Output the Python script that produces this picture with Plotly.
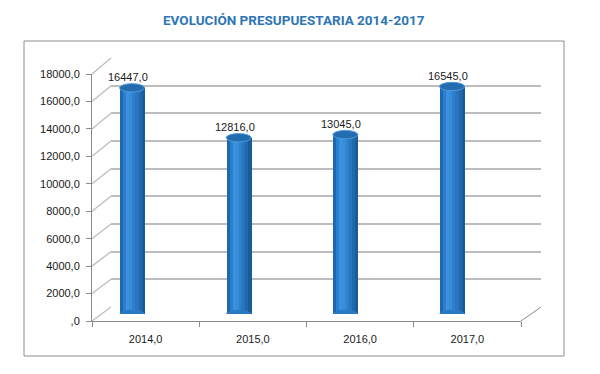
import plotly.graph_objects as go

# ---------------- data ----------------
years = ["2014,0", "2015,0", "2016,0", "2017,0"]
values = [16447, 12816, 13045, 16545]
value_labels = ["16447,0", "12816,0", "13045,0", "16545,0"]
y_ticks = [0, 2000, 4000, 6000, 8000, 10000, 12000, 14000, 16000, 18000]
y_tick_labels = [",0", "2000,0", "4000,0", "6000,0", "8000,0", "10000,0",
                 "12000,0", "14000,0", "16000,0", "18000,0"]
title_text = "EVOLUCIÓN PRESUPUESTARIA 2014-2017"

# ---------------- layout geometry (pixels) ----------------
W, H = 600, 374
YMAX = 18000
OFF = 8  # page body margin of the html page


def fx(px):
    return (px - OFF) / W


def fy(py):
    return 1 - (py - OFF) / H


# front plane (axis labels), back wall (gridlines), middle plane (bars)
FX0, FX1, FY0, FYT = 92, 521, 321, 74
BX0, BX1, BY0, BYT = 111, 541, 307, 58
MX0, MX1, MY0, MYT = 78.7, 505.3, 314, 66.5


def front_y(v):
    return FY0 - (FY0 - FYT) * v / YMAX


def back_y(v):
    return BY0 - (BY0 - BYT) * v / YMAX


FONT = "Liberation Sans, Arial, sans-serif"
GRID = "#bdbdbd"
AXIS = "#8a8a8a"

fig = go.Figure()
idx = list(range(len(years)))

# back wall subplot (x, y) - gridlines only
fig.add_trace(go.Scatter(x=[0, 1], y=[0, YMAX], mode="markers",
                         marker=dict(opacity=0), hoverinfo="skip",
                         showlegend=False, xaxis="x", yaxis="y"))
# front frame subplot (x2, y2) - axis lines & labels
fig.add_trace(go.Scatter(x=years, y=values, mode="markers",
                         marker=dict(opacity=0), hoverinfo="skip",
                         showlegend=False, xaxis="x2", yaxis="y2"))

# bars (x3, y3) - cylinder built from vertical strips
BW = 0.234
strip_colors = ["#1f68b0", "#2a7ecc", "#3a91e0", "#378cda", "#2e80cc",
                "#2775bf", "#2069ad", "#1a5c9a"]
sw = BW / len(strip_colors)
for k, c in enumerate(strip_colors):
    fig.add_trace(go.Bar(x=idx, y=values, width=sw * 1.02,
                         offset=-BW / 2 + k * sw,
                         marker=dict(color=c, line=dict(width=0)),
                         hoverinfo="skip", showlegend=False,
                         xaxis="x3", yaxis="y3"))

shapes = []
eh = 4.2 * YMAX / (MY0 - MYT)  # ellipse half-height in data units
for i, v in zip(idx, values):
    # bottom cap
    shapes.append(dict(type="circle", xref="x3", yref="y3",
                       x0=i - BW / 2, x1=i + BW / 2, y0=-eh, y1=eh,
                       fillcolor="#2a79c4", line=dict(width=0)))
    # top cap
    shapes.append(dict(type="circle", xref="x3", yref="y3",
                       x0=i - BW / 2, x1=i + BW / 2, y0=v - eh, y1=v + eh,
                       fillcolor="#246cb0", line=dict(color="#4f99dc", width=1)))

# side wall diagonals (left) at each tick and floor right edge
for v in y_ticks:
    shapes.append(dict(type="line", xref="paper", yref="paper",
                       x0=fx(FX0), y0=fy(front_y(v)), x1=fx(BX0), y1=fy(back_y(v)),
                       line=dict(color=GRID, width=1.3), layer="below"))
shapes.append(dict(type="line", xref="paper", yref="paper",
                   x0=fx(FX1), y0=fy(front_y(0)), x1=fx(BX1), y1=fy(back_y(0)),
                   line=dict(color=AXIS, width=1), layer="below"))
# outer chart border
shapes.append(dict(type="rect", xref="paper", yref="paper",
                   x0=fx(24), x1=fx(564), y0=fy(356), y1=fy(41),
                   line=dict(color="#8c8c8c", width=1), fillcolor="rgba(0,0,0,0)"))

annotations = [dict(text=title_text, xref="paper", yref="paper",
                    x=fx(294), y=fy(20), showarrow=False,
                    xanchor="center", yanchor="middle",
                    font=dict(family="Roboto, sans-serif", size=13.5,
                              color="#2e75b6", weight="bold"))]
for i, v, t in zip(idx, values, value_labels):
    annotations.append(dict(text=t, xref="x3", yref="y3", x=i, y=v,
                            xshift=-4, yshift=11, showarrow=False,
                            xanchor="center", yanchor="middle",
                            font=dict(family=FONT, size=11, color="#1a1a1a")))

fig.update_layout(
    template="none",
    width=W, height=H,
    margin=dict(l=0, r=0, t=0, b=0, pad=0, autoexpand=False),
    paper_bgcolor="white", plot_bgcolor="rgba(0,0,0,0)",
    barmode="overlay", bargap=0,
    showlegend=False,
    shapes=shapes, annotations=annotations,
    xaxis=dict(domain=[fx(BX0), fx(BX1)], range=[0, 1], anchor="y",
               visible=False, automargin=False),
    yaxis=dict(domain=[fy(BY0), fy(BYT)], range=[0, YMAX], anchor="x",
               tickvals=y_ticks, showticklabels=False, ticks="",
               showgrid=True, gridcolor=GRID, gridwidth=1.6,
               zeroline=False, showline=False, automargin=False),
    xaxis2=dict(domain=[fx(FX0), fx(FX1)], type="category",
                categoryorder="array", categoryarray=years,
                range=[-0.5, len(years) - 0.5], anchor="y2",
                showline=True, linecolor=AXIS, linewidth=1,
                ticks="outside", tickson="boundaries", ticklen=5,
                tickcolor=AXIS, showgrid=False, zeroline=False,
                ticklabelstandoff=8, automargin=False,
                tickfont=dict(family=FONT, size=11, color="#1a1a1a")),
    yaxis2=dict(domain=[fy(FY0), fy(FYT)], range=[0, YMAX], anchor="x2",
                tickvals=y_ticks, ticktext=y_tick_labels,
                ticks="outside", ticklen=5, tickcolor=AXIS,
                showline=True, linecolor=AXIS, linewidth=1,
                showgrid=False, zeroline=False, ticklabelstandoff=4,
                automargin=False,
                tickfont=dict(family=FONT, size=11, color="#1a1a1a")),
    xaxis3=dict(domain=[fx(MX0), fx(MX1)], range=[-0.5, len(years) - 0.5],
                anchor="y3", visible=False, automargin=False),
    yaxis3=dict(domain=[fy(MY0), fy(MYT)], range=[0, YMAX], anchor="x3",
                visible=False, automargin=False),
)

fig.write_html("out.html")
